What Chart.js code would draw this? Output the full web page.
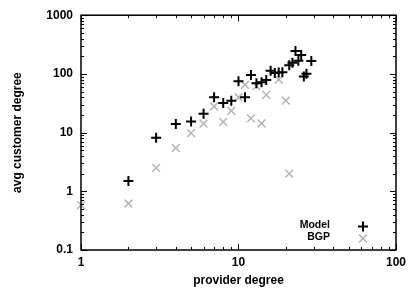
<!DOCTYPE html>
<html>
<head>
<meta charset="utf-8">
<script src="https://cdn.jsdelivr.net/npm/chart.js@4/dist/chart.umd.min.js"></script>
<style>
  html, body { margin: 0; padding: 0; background: #fff; }
  #wrap { width: 411px; height: 296px; }
</style>
</head>
<body>
<div id="wrap"><canvas id="degreeChart"></canvas></div>
<script>
// values (provider degree vs avg customer degree)
const modelX = [2, 3, 4, 5, 6, 7, 8, 9, 10, 11, 12, 13, 14, 15, 16, 17, 18, 19, 21, 22, 23, 24, 25, 26, 27, 29];
const modelY = [1.5, 8.2, 14, 15.5, 21, 40, 32, 35, 75, 40, 96, 69, 72, 79, 113, 104, 106, 107, 140, 155, 245, 168, 210, 90, 101, 166];
const bgpX = [1, 2, 3, 4, 5, 6, 7, 8, 9, 10, 11, 12, 13, 14, 15, 18, 20, 21];
const bgpY = [0.58, 0.62, 2.5, 5.5, 9.8, 14.2, 28, 15.2, 23.5, 40, 65, 17.5, 62, 14.3, 44, 80, 35, 2.0];

const xTicks = [1, 10, 100];
const yTicks = [0.1, 1, 10, 100, 1000];
const seriesNames = ['Model', 'BGP'];

const toPoints = (xs, ys) => xs.map((v, i) => ({ x: v, y: ys[i] }));

// gnuplot style frame with inward ticks on all four sides
const frameTicks = {
    id: 'frameTicks',
    afterDatasetsDraw(chart) {
        const { ctx, chartArea: a, scales: { x, y } } = chart;
        ctx.save();
        ctx.strokeStyle = '#000';
        ctx.lineWidth = 1;
        ctx.beginPath();
        for (let d = 1; d < 100; d *= 10) {
            for (let m = 1; m <= 10; m++) {
                const px = Math.round(x.getPixelForValue(d * m)) + 0.5;
                const len = (m === 1 || m === 10) ? 6 : 3;
                ctx.moveTo(px, a.bottom); ctx.lineTo(px, a.bottom - len);
                ctx.moveTo(px, a.top); ctx.lineTo(px, a.top + len);
            }
        }
        for (let d = 0.1; d < 1000; d *= 10) {
            for (let m = 1; m <= 10; m++) {
                const py = Math.round(y.getPixelForValue(d * m)) + 0.5;
                const len = (m === 1 || m === 10) ? 6 : 3;
                ctx.moveTo(a.left, py); ctx.lineTo(a.left + len, py);
                ctx.moveTo(a.right, py); ctx.lineTo(a.right - len, py);
            }
        }
        ctx.stroke();
        ctx.lineWidth = 1.5;
        ctx.strokeRect(a.left, a.top, a.right - a.left, a.bottom - a.top);
        ctx.restore();
    }
};

// key in the lower right corner: text right-aligned, marker after it
const keyBox = {
    id: 'keyBox',
    afterDraw(chart) {
        const { ctx, chartArea: a } = chart;
        ctx.save();
        ctx.font = 'bold 10.5px "Liberation Sans", Arial, sans-serif';
        ctx.fillStyle = '#000';
        ctx.textAlign = 'right';
        ctx.textBaseline = 'middle';
        chart.data.datasets.forEach((ds, i) => {
            const ty = a.bottom - 25 + i * 12;
            ctx.fillText(ds.label, a.right - 66, ty);
            const mx = a.right - 33, my = ty + 1.5, r = ds.pointRadius;
            ctx.strokeStyle = ds.borderColor;
            ctx.lineWidth = ds.borderWidth;
            ctx.beginPath();
            if (ds.pointStyle === 'cross') {
                ctx.moveTo(mx - r, my); ctx.lineTo(mx + r, my);
                ctx.moveTo(mx, my - r); ctx.lineTo(mx, my + r);
            } else {
                const o = r * Math.SQRT1_2;
                ctx.moveTo(mx - o, my - o); ctx.lineTo(mx + o, my + o);
                ctx.moveTo(mx - o, my + o); ctx.lineTo(mx + o, my - o);
            }
            ctx.stroke();
        });
        ctx.restore();
    }
};

const labelFont = { family: '"Liberation Sans", Arial, sans-serif', size: 12, weight: 'bold' };

new Chart(document.getElementById('degreeChart'), {
    type: 'scatter',
    data: {
        datasets: [{
            label: seriesNames[0],
            data: toPoints(modelX, modelY),
            pointStyle: 'cross',
            pointRadius: 5,
            borderColor: '#000',
            backgroundColor: '#000',
            borderWidth: 2
        }, {
            label: seriesNames[1],
            data: toPoints(bgpX, bgpY),
            pointStyle: 'crossRot',
            pointRadius: 5.5,
            borderColor: '#b4b4b4',
            backgroundColor: '#b4b4b4',
            borderWidth: 1.5,
            clip: false
        }]
    },
    options: {
        responsive: true,
        maintainAspectRatio: false,
        animation: false,
        layout: { padding: { left: 0, right: 12, top: 15, bottom: 0 } },
        plugins: {
            legend: { display: false },
            tooltip: { enabled: false }
        },
        scales: {
            x: {
                type: 'logarithmic',
                min: 1,
                max: 100,
                afterFit: s => { s.height = 46; },
                afterBuildTicks: s => { s.ticks = xTicks.map(v => ({ value: v })); },
                grid: { display: false, drawTicks: false },
                border: { display: false },
                ticks: {
                    padding: 5,
                    color: '#000',
                    font: labelFont,
                    maxRotation: 0,
                    callback: v => String(v)
                },
                title: {
                    display: true,
                    text: 'provider degree',
                    color: '#000',
                    font: labelFont,
                    padding: { top: 0, bottom: 8 }
                }
            },
            y: {
                type: 'logarithmic',
                min: 0.1,
                max: 1000,
                afterFit: s => { s.width = 81; },
                afterBuildTicks: s => { s.ticks = yTicks.map(v => ({ value: v })); },
                grid: { display: false, drawTicks: false },
                border: { display: false },
                ticks: {
                    padding: 8,
                    color: '#000',
                    font: labelFont,
                    callback: v => String(v)
                },
                title: {
                    display: true,
                    text: 'avg customer degree',
                    color: '#000',
                    font: labelFont,
                    padding: { top: 10, bottom: 0 }
                }
            }
        }
    },
    plugins: [frameTicks, keyBox]
});
</script>
</body>
</html>
